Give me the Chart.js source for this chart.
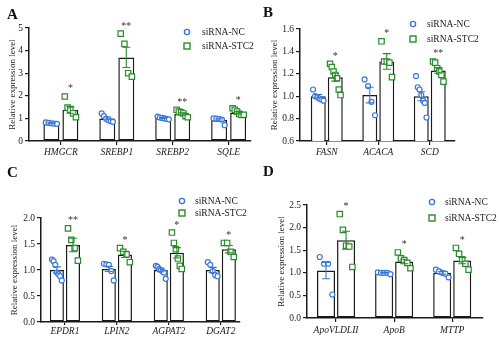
<!DOCTYPE html>
<html>
<head>
<meta charset="utf-8">
<script src="https://cdn.jsdelivr.net/npm/chart.js@4.4.1/dist/chart.umd.min.js"></script>
<style>
  html, body { margin: 0; padding: 0; background: #fff; }
  #wrap { position: relative; width: 500px; height: 341px; overflow: hidden; }
  canvas { position: absolute; }
  .tag { position: absolute; font: bold 15px 'Liberation Serif', 'Times New Roman', serif; line-height: 15px; color: #111; }
</style>
</head>
<body>
<div id="wrap">
  <canvas id="cA" width="260" height="170" style="left:0;top:0"></canvas>
  <canvas id="cB" width="250" height="170" style="left:250px;top:0"></canvas>
  <canvas id="cC" width="250" height="171" style="left:0;top:170px"></canvas>
  <canvas id="cD" width="250" height="171" style="left:250px;top:170px"></canvas>
  <div class="tag" style="left:7px;top:7px">A</div>
  <div class="tag" style="left:263px;top:5px">B</div>
  <div class="tag" style="left:7px;top:165px">C</div>
  <div class="tag" style="left:263px;top:164px">D</div>
</div>
<script>
// ---- data ----
const catsA = ['HMGCR', 'SREBP1', 'SREBP2', 'SQLE'];
const ncMeanA = [0.78, 1.0, 1.02, 0.93];
const ncSemA = [0.02, 0.06, 0.02, 0.05];
const ncPtsA = [[0.82, 0.8, 0.78, 0.77, 0.76], [1.22, 1.1, 0.98, 0.92, 0.88, 0.85], [1.08, 1.04, 1.02, 1.0, 0.98, 0.96], [1.0, 0.99, 0.97, 0.95, 0.7]];
const stcMeanA = [1.38, 3.7, 1.2, 1.25];
const stcSemA = [0.15, 0.45, 0.05, 0.05];
const stcPtsA = [[1.97, 1.48, 1.38, 1.22, 1.05], [4.75, 4.3, 3.0, 2.85], [1.38, 1.3, 1.27, 1.22, 1.1, 1.05], [1.45, 1.38, 1.3, 1.2, 1.15, 1.16]];
const starsA = ['*', '**', '**', '*'];

const catsB = ['FASN', 'ACACA', 'SCD'];
const ncMeanB = [1.0, 1.01, 1.0];
const ncSemB = [0.015, 0.07, 0.04];
const ncPtsB = [[1.06, 1.0, 0.99, 0.98, 0.97, 0.96], [1.15, 1.09, 0.95, 0.83], [1.18, 1.08, 1.06, 1.01, 0.96, 0.94, 0.81]];
const stcMeanB = [1.17, 1.31, 1.23];
const stcSemB = [0.035, 0.07, 0.025];
const stcPtsB = [[1.29, 1.26, 1.22, 1.19, 1.16, 1.06, 1.01], [1.49, 1.31, 1.31, 1.3, 1.17], [1.31, 1.3, 1.25, 1.22, 1.19, 1.13]];
const starsB = ['*', '*', '**'];

const catsC = ['EPDR1', 'LPIN2', 'AGPAT2', 'DGAT2'];
const ncMeanC = [1.0, 1.02, 1.0, 1.0];
const ncSemC = [0.06, 0.05, 0.035, 0.05];
const ncPtsC = [[1.2, 1.17, 1.1, 0.95, 0.92, 0.88, 0.8], [1.12, 1.11, 1.1, 0.98, 0.8], [1.08, 1.06, 1.02, 1.0, 0.97, 0.95, 0.83], [1.15, 1.1, 0.98, 0.9, 0.88]];
const stcMeanC = [1.48, 1.3, 1.33, 1.4];
const stcSemC = [0.13, 0.06, 0.1, 0.07];
const stcPtsC = [[1.8, 1.58, 1.42, 1.18], [1.42, 1.35, 1.3, 1.15], [1.72, 1.52, 1.4, 1.22, 1.08, 1.02], [1.52, 1.52, 1.35, 1.25]];
const starsC = ['**', '*', '*', '*'];

const catsD = ['ApoVLDLII', 'ApoB', 'MTTP'];
const ncMeanD = [1.05, 1.0, 1.0];
const ncSemD = [0.18, 0.01, 0.03];
const ncPtsD = [[1.35, 1.2, 1.2, 0.52], [1.01, 1.0, 1.0, 1.0, 0.97], [1.07, 1.03, 1.0, 0.98, 0.9]];
const stcMeanD = [1.72, 1.25, 1.27];
const stcSemD = [0.2, 0.05, 0.07];
const stcPtsD = [[2.3, 1.95, 1.6, 1.58, 1.13], [1.45, 1.32, 1.28, 1.22, 1.1], [1.55, 1.42, 1.3, 1.2, 1.07]];
const starsD = ['*', '*', '*'];

const seriesNames = ['siRNA-NC', 'siRNA-STC2'];

// ---- styling ----
const NC_COLOR = '#3a78d4';
const STC_COLOR = '#2b8a2b';
const INK = '#1a1a1a';
const SERIF = "'Liberation Serif', 'Times New Roman', serif";

function makePanel(id, c) {
  const off = c.cp / 4;
  const barW = c.cp / 2 * c.bp;

  // spread the points across the bar width, in data order
  function spread(pts, sign) {
    const out = [];
    pts.forEach((arr, i) => {
      const n = arr.length;
      arr.forEach((v, k) => {
        const f = n > 1 ? k / (n - 1) - 0.5 : 0;
        out.push({ x: i + sign * off + f * barW * 0.7, y: v });
      });
    });
    return out;
  }

  const extras = {
    id: 'extras',
    afterDatasetsDraw(chart) {
      const ctx = chart.ctx;
      const y = chart.scales.y;
      ctx.save();
      // error bars (mean +/- SEM)
      [[0, c.ncMean, c.ncSem, NC_COLOR], [1, c.stcMean, c.stcSem, STC_COLOR]].forEach(([d, mean, sem, col]) => {
        const meta = chart.getDatasetMeta(d);
        meta.data.forEach((bar, i) => {
          const top = y.getPixelForValue(mean[i] + sem[i]);
          const bot = y.getPixelForValue(mean[i] - sem[i]);
          ctx.strokeStyle = col;
          ctx.lineWidth = 1.1;
          ctx.beginPath();
          ctx.moveTo(bar.x, top); ctx.lineTo(bar.x, bot);
          ctx.moveTo(bar.x - 4, top); ctx.lineTo(bar.x + 4, top);
          ctx.moveTo(bar.x - 4, bot); ctx.lineTo(bar.x + 4, bot);
          ctx.stroke();
        });
      });
      // significance marks
      const meta = chart.getDatasetMeta(1);
      ctx.fillStyle = '#333';
      ctx.font = '10px ' + SERIF;
      ctx.textAlign = 'center';
      ctx.textBaseline = 'alphabetic';
      meta.data.forEach((bar, i) => {
        const hi = Math.max(Math.max(...c.stcPts[i]), c.stcMean[i] + c.stcSem[i]);
        ctx.fillText(c.stars[i], bar.x, y.getPixelForValue(hi) - 5);
      });
      // legend
      const L = c.legend;
      ctx.lineWidth = 1.4;
      ctx.strokeStyle = NC_COLOR;
      ctx.beginPath(); ctx.arc(L.x, L.y1, 2.6, 0, Math.PI * 2); ctx.stroke();
      ctx.strokeStyle = STC_COLOR;
      ctx.strokeRect(L.x - 3, L.y2 - 3, 6, 6);
      ctx.fillStyle = INK;
      ctx.font = '9.5px ' + SERIF;
      ctx.textAlign = 'left';
      ctx.textBaseline = 'middle';
      ctx.fillText(seriesNames[0], L.tx, L.y1);
      ctx.fillText(seriesNames[1], L.tx, L.y2);
      ctx.restore();
    }
  };

  return new Chart(document.getElementById(id), {
    type: 'bar',
    data: {
      datasets: [
        { label: seriesNames[0], data: c.cats.map((_, i) => ({ x: i, y: c.ncMean[i] })),
          backgroundColor: '#fff', borderColor: INK, borderWidth: 1.5, borderSkipped: false,
          categoryPercentage: c.cp, barPercentage: c.bp, order: 2 },
        { label: seriesNames[1], data: c.cats.map((_, i) => ({ x: i, y: c.stcMean[i] })),
          backgroundColor: '#fff', borderColor: INK, borderWidth: 1.5, borderSkipped: false,
          categoryPercentage: c.cp, barPercentage: c.bp, order: 2 },
        { type: 'scatter', data: spread(c.ncPts, -1), pointStyle: 'circle', pointRadius: 2.5,
          borderColor: NC_COLOR, backgroundColor: '#fff', borderWidth: 1.2, order: 1, clip: false },
        { type: 'scatter', data: spread(c.stcPts, 1), pointStyle: 'rect', pointRadius: 3.8,
          borderColor: STC_COLOR, backgroundColor: '#fff', borderWidth: 1.2, order: 1, clip: false }
      ]
    },
    options: {
      responsive: false,
      animation: false,
      layout: { padding: c.pad },
      plugins: { legend: { display: false }, tooltip: { enabled: false } },
      scales: {
        x: {
          type: 'linear',
          offset: false,
          bounds: 'data',
          min: c.xMin, max: c.xMax,
          afterBuildTicks: s => { s.ticks = c.cats.map((_, i) => ({ value: i })); },
          afterFit: s => { s.height = c.xHeight; },
          grid: { display: true, offset: false, drawOnChartArea: false, drawTicks: true, tickLength: c.xTick, color: INK, lineWidth: 1.2 },
          border: { display: true, color: INK, width: 1.5 },
          ticks: {
            autoSkip: false, maxRotation: 0, padding: c.xPad, color: INK,
            font: { family: SERIF, size: 9.5, style: 'italic' },
            callback: v => c.cats[v]
          }
        },
        y: {
          min: c.yMin, max: c.yMax,
          afterFit: s => { s.width = c.yWidth; },
          grid: { display: true, drawOnChartArea: false, drawTicks: true, tickLength: 4, color: INK, lineWidth: 1.2 },
          border: { display: true, color: INK, width: 1.5 },
          ticks: {
            stepSize: c.yStep, padding: 2, color: INK,
            font: { family: SERIF, size: 9.5 },
            callback: v => v.toFixed(c.dec)
          },
          title: { display: true, text: 'Relative expression level', color: INK, padding: 0,
                   font: { family: SERIF, size: 9 } }
        }
      }
    },
    plugins: [extras]
  });
}

makePanel('cA', {
  cats: catsA, ncMean: ncMeanA, ncSem: ncSemA, ncPts: ncPtsA,
  stcMean: stcMeanA, stcSem: stcSemA, stcPts: stcPtsA, stars: starsA,
  yMin: 0, yMax: 5, yStep: 1, dec: 0, xMin: -0.57, xMax: 3.4, cp: 0.68, bp: 0.84,
  pad: { left: 7, top: 28, right: 9, bottom: 0 }, yWidth: 22, xHeight: 29, xTick: 4, xPad: 2,
  legend: { x: 187, y1: 32, y2: 46, tx: 202 }
});

makePanel('cB', {
  cats: catsB, ncMean: ncMeanB, ncSem: ncSemB, ncPts: ncPtsB,
  stcMean: stcMeanB, stcSem: stcSemB, stcPts: stcPtsB, stars: starsB,
  yMin: 0.6, yMax: 1.6, yStep: 0.2, dec: 1, xMin: -0.52, xMax: 2.49, cp: 0.66, bp: 0.88,
  pad: { left: 19, top: 29, right: 45, bottom: 0 }, yWidth: 31, xHeight: 29, xTick: 4, xPad: 2,
  legend: { x: 163, y1: 24, y2: 39, tx: 177 }
});

makePanel('cC', {
  cats: catsC, ncMean: ncMeanC, ncSem: ncSemC, ncPts: ncPtsC,
  stcMean: stcMeanC, stcSem: stcSemC, stcPts: stcPtsC, stars: starsC,
  yMin: 0, yMax: 2, yStep: 0.5, dec: 1, xMin: -0.46, xMax: 3.37, cp: 0.62, bp: 0.875,
  pad: { left: 9, top: 48, right: 10, bottom: 0 }, yWidth: 32, xHeight: 19, xTick: 3, xPad: 1,
  legend: { x: 182, y1: 31, y2: 43, tx: 195 }
});

makePanel('cD', {
  cats: catsD, ncMean: ncMeanD, ncSem: ncSemD, ncPts: ncPtsD,
  stcMean: stcMeanD, stcSem: stcSemD, stcPts: stcPtsD, stars: starsD,
  yMin: 0, yMax: 2.5, yStep: 0.5, dec: 1, xMin: -0.5, xMax: 2.53, cp: 0.69, bp: 0.9,
  pad: { left: 26, top: 35, right: 17, bottom: 0 }, yWidth: 31, xHeight: 23, xTick: 4, xPad: 3,
  legend: { x: 182, y1: 32, y2: 48, tx: 195 }
});
</script>
</body>
</html>
